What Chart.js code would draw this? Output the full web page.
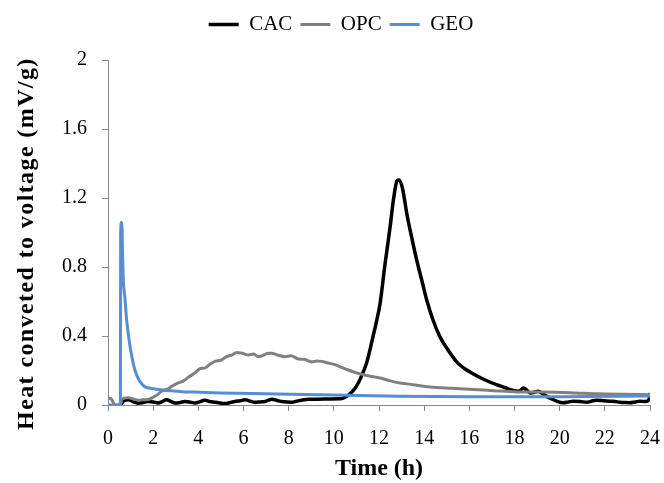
<!DOCTYPE html>
<html><head><meta charset="utf-8">
<script src="https://cdn.jsdelivr.net/npm/chart.js@4/dist/chart.umd.min.js"></script>
<style>html,body{margin:0;padding:0;background:#fff}</style>
</head><body>
<canvas id="c" width="664" height="483"></canvas>
<script>
const seriesNames = ['CAC', 'OPC', 'GEO'];
const xTickValues = [0, 2, 4, 6, 8, 10, 12, 14, 16, 18, 20, 22, 24];
const yTickValues = [0, 0.4, 0.8, 1.2, 1.6, 2];
const yTickLabels = ['0', '0.4', '0.8', '1.2', '1.6', '2'];

const cacT = [0.55, 0.68, 0.9, 1.1, 1.34, 1.55, 1.78, 2.0, 2.22, 2.4, 2.59, 2.8, 2.96, 3.2, 3.4, 3.6, 3.85, 4.05, 4.28, 4.5, 4.73, 4.95, 5.18, 5.4, 5.62, 5.85, 6.07, 6.3, 6.5, 6.75, 6.95, 7.1, 7.25, 7.5, 7.7, 7.9, 8.14, 8.35, 8.58, 8.88, 9.3, 9.8, 10.3, 10.57, 10.8, 11.0, 11.2, 11.45, 11.6, 11.74, 11.9, 12.05, 12.25, 12.49, 12.65, 12.8, 12.9, 13.05, 13.23, 13.45, 13.67, 13.9, 14.11, 14.4, 14.7, 15.05, 15.44, 15.8, 16.18, 16.7, 17.2, 17.6, 17.95, 18.2, 18.4, 18.55, 18.7, 18.85, 19.05, 19.25, 19.42, 19.65, 19.87, 20.16, 20.4, 20.6, 20.9, 21.2, 21.4, 21.64, 21.95, 22.23, 22.45, 22.67, 22.9, 23.1, 23.35, 23.56, 23.8, 23.95, 24];
const cacV = [0, 0.022, 0.03, 0.02, 0.01, 0.015, 0.02, 0.018, 0.012, 0.02, 0.03, 0.02, 0.012, 0.015, 0.02, 0.018, 0.012, 0.018, 0.028, 0.02, 0.016, 0.012, 0.008, 0.014, 0.02, 0.025, 0.03, 0.022, 0.016, 0.018, 0.02, 0.028, 0.034, 0.026, 0.02, 0.018, 0.016, 0.022, 0.028, 0.034, 0.034, 0.035, 0.036, 0.05, 0.075, 0.108, 0.16, 0.244, 0.32, 0.40, 0.49, 0.59, 0.80, 1.03, 1.20, 1.30, 1.305, 1.25, 1.11, 0.97, 0.84, 0.72, 0.61, 0.49, 0.395, 0.32, 0.25, 0.21, 0.18, 0.145, 0.118, 0.1, 0.084, 0.08, 0.099, 0.085, 0.07, 0.072, 0.08, 0.065, 0.05, 0.035, 0.022, 0.013, 0.018, 0.022, 0.02, 0.016, 0.022, 0.028, 0.025, 0.022, 0.02, 0.016, 0.014, 0.013, 0.018, 0.022, 0.02, 0.03, 0.07];

const opcT = [0, 0.15, 0.3, 0.55, 0.6, 0.9, 1.1, 1.34, 1.55, 1.78, 2.0, 2.2, 2.37, 2.6, 2.85, 3.11, 3.35, 3.6, 3.85, 4.07, 4.3, 4.5, 4.74, 5.0, 5.25, 5.5, 5.7, 5.95, 6.22, 6.45, 6.66, 6.9, 7.1, 7.25, 7.5, 7.84, 8.1, 8.43, 8.7, 9.02, 9.25, 9.46, 9.7, 10.05, 10.5, 11.0, 11.5, 12.05, 12.5, 12.93, 13.5, 14.26, 15.2, 16.18, 17.1, 18.1, 19.0, 19.87, 20.7, 21.64, 22.8, 24];
const opcV = [0.04, 0.035, 0, 0, 0.032, 0.042, 0.035, 0.028, 0.03, 0.032, 0.045, 0.06, 0.08, 0.09, 0.11, 0.128, 0.14, 0.165, 0.186, 0.21, 0.215, 0.235, 0.253, 0.26, 0.28, 0.29, 0.305, 0.3, 0.29, 0.295, 0.28, 0.29, 0.3, 0.3, 0.29, 0.28, 0.285, 0.267, 0.265, 0.25, 0.255, 0.253, 0.245, 0.234, 0.21, 0.186, 0.17, 0.157, 0.14, 0.128, 0.118, 0.105, 0.097, 0.09, 0.083, 0.076, 0.075, 0.074, 0.07, 0.065, 0.062, 0.06];

const geoT = [0, 0.55, 0.56, 0.6, 0.62, 0.65, 0.68, 0.75, 0.82, 0.9, 1.0, 1.12, 1.2, 1.3, 1.42, 1.64, 2.0, 2.22, 2.8, 3.3, 3.85, 5.0, 6.95, 9.46, 12.9, 16, 20, 24];
const geoV = [0, 0, 1.0, 1.06, 1.03, 0.85, 0.72, 0.62, 0.5, 0.41, 0.32, 0.24, 0.2, 0.165, 0.135, 0.105, 0.095, 0.09, 0.082, 0.077, 0.075, 0.07, 0.065, 0.059, 0.051, 0.048, 0.048, 0.052];

const colors = ['#000000', '#808080', '#558ED5'];
const widths = [3.5, 3, 3];
const FONT = 'Liberation Serif';

function pts(t, v) { return t.map((x, i) => ({x: x, y: v[i]})); }
const seriesData = [pts(cacT, cacV), pts(opcT, opcV), pts(geoT, geoV)];

const tweaks = {
  id: 'tweaks',
  beforeLayout(chart) {
    const lg = chart.legend;
    if (lg && !lg._wrapped) {
      const f = lg.fit.bind(lg);
      lg.fit = function () { f(); this.height += 15; };
      lg._wrapped = true;
    }
  },
  afterLayout(chart) {
    const lg = chart.legend;
    if (lg) { lg.left += 16; lg.right += 16; }
  },
  beforeDraw(chart) {
    const s = chart.scales.y;
    if (s && !s._wrapped) {
      const d = s.drawTitle.bind(s);
      s.drawTitle = function (...a) {
        const ctx = chart.ctx;
        ctx.save();
        ctx.letterSpacing = '1.4px';
        d(...a);
        ctx.restore();
      };
      s._wrapped = true;
    }
  }
};

new Chart(document.getElementById('c'), {
  type: 'line',
  data: {
    datasets: seriesNames.map((n, i) => ({
      label: n,
      data: seriesData[i],
      borderColor: colors[i],
      backgroundColor: colors[i],
      borderWidth: widths[i],
      pointRadius: 0,
      pointStyle: 'line',
      cubicInterpolationMode: 'monotone',
      fill: false,
      order: 3 - i
    }))
  },
  options: {
    responsive: false,
    animation: false,
    layout: {padding: {left: 0, right: 14, top: 6, bottom: 0}},
    plugins: {
      legend: {
        position: 'top',
        labels: {
          usePointStyle: true,
          pointStyle: 'line',
          pointStyleWidth: 30,
          color: '#000',
          font: {family: FONT, size: 21},
          padding: 8,
          sort: (a, b) => a.datasetIndex - b.datasetIndex
        }
      },
      tooltip: {enabled: false}
    },
    scales: {
      x: {
        type: 'linear', min: 0, max: 24,
        afterBuildTicks: s => { s.ticks = xTickValues.map(v => ({value: v})); },
        ticks: {color: '#000', font: {family: FONT, size: 20}, padding: 16, maxRotation: 0, autoSkip: false},
        grid: {drawOnChartArea: false, color: '#888', tickLength: 6},
        border: {color: '#888', width: 1},
        title: {display: true, text: 'Time (h)', color: '#000', font: {family: FONT, size: 24, weight: 'bold'}, padding: {top: 2, bottom: 0}},
        afterFit: s => { s.height = 78; s.paddingRight = 0; s.paddingLeft = 0; }
      },
      y: {
        type: 'linear', min: 0, max: 2,
        afterBuildTicks: s => { s.ticks = yTickValues.map(v => ({value: v})); },
        ticks: {color: '#000', font: {family: FONT, size: 20}, padding: 15,
          callback: v => { const k = yTickValues.indexOf(v); return k >= 0 ? yTickLabels[k] : String(v); }},
        grid: {drawOnChartArea: false, color: '#888', tickLength: 6},
        border: {color: '#888', width: 1},
        title: {display: true, text: 'Heat conveted to voltage (mV/g)   ', color: '#000', font: {family: FONT, size: 24, weight: 'bold'}, padding: {top: 12, bottom: 0}},
        afterFit: s => { s.width = 108; }
      }
    }
  },
  plugins: [tweaks]
});
</script>
</body></html>
